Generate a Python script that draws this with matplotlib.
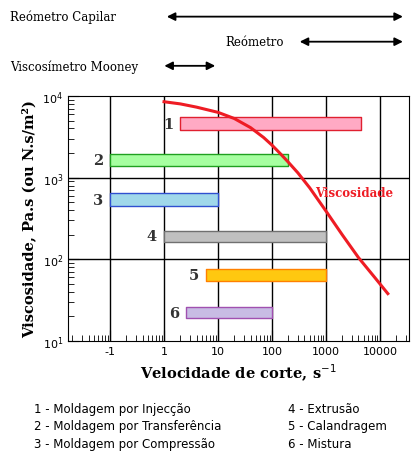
import matplotlib
matplotlib.use("Agg")
import matplotlib.pyplot as plt
import numpy as np

bar_labels = ["1", "2", "3", "4", "5", "6"]
bar_x0 = [2, 0.1, 0.1, 1, 6, 2.6]
bar_x1 = [4500, 200, 10, 1000, 1000, 100]
bar_y0 = [3800, 1380, 445, 163, 55, 19]
bar_y1 = [5500, 1950, 650, 225, 76, 26]
bar_fc = ["#ffaac4", "#a6ffa0", "#a0d8ea", "#c0c0c0", "#ffc810", "#c8bce4"]
bar_ec = ["#e02030", "#20a020", "#3050d0", "#707070", "#ff8000", "#a050b0"]

curve_x = [1, 2, 4, 10, 20, 40, 70, 100, 150, 200, 300, 500, 1000, 2000, 4000, 8000, 14000]
curve_y = [8500, 8000, 7300, 6300, 5300, 4100, 3100, 2500, 1900, 1550, 1150, 750, 390, 200, 105, 60, 38]

legend_left = ["1 - Moldagem por Injecção", "2 - Moldagem por Transferência", "3 - Moldagem por Compressão"]
legend_right = ["4 - Extrusão", "5 - Calandragem", "6 - Mistura"]

ranges = [("Reómetro Capilar", 1, 30000, 0.962), ("Reómetro", 290, 30000, 0.908), ("Viscosímetro Mooney", 0.9, 10, 0.856)]
range_text_x = [0.024, 0.54, 0.024]

fig = plt.figure(figsize=(4.17, 4.64), dpi=100)
ax = fig.add_axes([0.163, 0.263, 0.818, 0.528])
ax.set_xscale("log"); ax.set_yscale("log")
ax.set_xlim(10**-1.78, 10**4.54); ax.set_ylim(10, 10**4)
for xv in [0.1, 1, 10, 100, 1000, 10000]:
    ax.axvline(xv, color="black", lw=1)
for yv in [100, 1000]:
    ax.axhline(yv, color="black", lw=1)

for lab, x0, x1, y0, y1, fc, ec in zip(bar_labels, bar_x0, bar_x1, bar_y0, bar_y1, bar_fc, bar_ec):
    ax.fill_between([x0, x1], y0, y1, facecolor=fc, edgecolor=ec, lw=1, zorder=3)
    ax.text(x0 / 1.35, np.sqrt(y0 * y1), lab, ha="right", va="center", fontsize=10.5,
            fontweight="bold", family="DejaVu Serif", color="#333333", zorder=4)

ax.plot(curve_x, curve_y, color="#ee1c24", lw=2.2, zorder=5)
ax.text(630, 650, "Viscosidade", color="#ee1c24", fontsize=8.5, fontweight="bold",
        family="DejaVu Serif", ha="left", va="center")

ax.set_xticks([0.1, 1, 10, 100, 1000, 10000])
ax.set_xticklabels(["-1", "1", "10", "100", "1000", "10000"], family="DejaVu Sans", fontsize=8)
ax.set_yticks([10, 100, 1000, 10000])
ax.set_yticklabels(["$10^{1}$", "$10^{2}$", "$10^{3}$", "$10^{4}$"], fontsize=8)
ax.tick_params(which="both", direction="in", length=8)
ax.tick_params(which="minor", length=4)
ax.set_xlabel("Velocidade de corte, s$^{-1}$", family="DejaVu Serif", fontweight="bold", fontsize=10.5)
ax.set_ylabel("Viscosidade, Pa.s (ou N.s/m²)", family="DejaVu Serif", fontweight="bold", fontsize=10.5)

trans = ax.get_xaxis_transform()
for (name, xa, xb, yf), tx in zip(ranges, range_text_x):
    ya = (yf - 0.263) / 0.528
    ax.annotate("", xy=(xb, ya), xytext=(xa, ya), xycoords=trans, textcoords=trans,
                arrowprops=dict(arrowstyle="<|-|>", color="black", lw=1.3, mutation_scale=12),
                annotation_clip=False)
    fig.text(tx, yf, name, ha="left", va="center", family="DejaVu Serif", fontsize=8.5)

for i, (l, r) in enumerate(zip(legend_left, legend_right)):
    y = 0.118 - i * 0.038
    fig.text(0.082, y, l, fontsize=8.5, family="DejaVu Sans", va="center")
    fig.text(0.69, y, r, fontsize=8.5, family="DejaVu Sans", va="center")

fig.savefig("out.png", dpi=100)
